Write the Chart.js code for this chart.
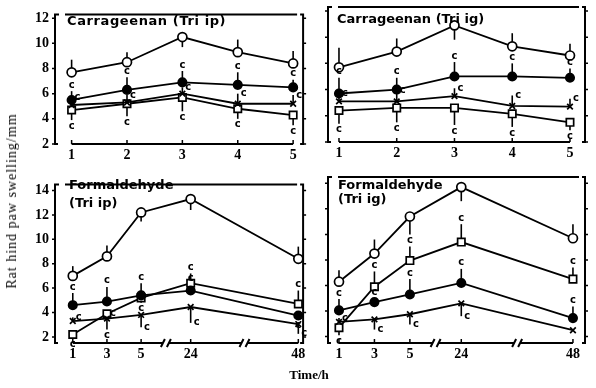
<!DOCTYPE html>
<html><head><meta charset="utf-8">
<script src="https://cdn.jsdelivr.net/npm/chart.js@4"></script>
<style>
html,body{margin:0;padding:0;background:#fff;width:596px;height:388px;overflow:hidden;position:relative;}
.panel{position:absolute;}
.ptitle{position:absolute;font:bold 13px "DejaVu Sans",sans-serif;color:#000;white-space:nowrap;line-height:1;}
#ytitle{position:absolute;left:12px;top:201px;transform:translate(-50%,-50%) rotate(-90deg);font:14px "Liberation Serif",serif;letter-spacing:1px;white-space:nowrap;color:#000;}
#xtitle{position:absolute;left:309px;top:375px;transform:translate(-50%,-50%);font:bold 13px "Liberation Serif",serif;white-space:nowrap;color:#000;}
</style></head><body>
<div class="panel" style="left:0;top:0;width:310px;height:170px"><canvas id="c1"></canvas></div>
<div class="panel" style="left:310px;top:0;width:286px;height:170px"><canvas id="c2"></canvas></div>
<div class="panel" style="left:0;top:170px;width:310px;height:200px"><canvas id="c3"></canvas></div>
<div class="panel" style="left:310px;top:170px;width:286px;height:200px"><canvas id="c4"></canvas></div>
<div class="ptitle" style="left:67px;top:14px;letter-spacing:0.6px">Carrageenan (Tri ip)</div>
<div class="ptitle" style="left:337px;top:12px;letter-spacing:0px">Carrageenan (Tri ig)</div>
<div class="ptitle" style="left:69px;top:178px">Formaldehyde</div>
<div class="ptitle" style="left:69px;top:196px">(Tri ip)</div>
<div class="ptitle" style="left:338px;top:178px">Formaldehyde</div>
<div class="ptitle" style="left:338px;top:192px">(Tri ig)</div>
<div id="ytitle">Rat hind paw swelling/mm</div>
<div id="xtitle">Time/h</div>
<script>
// ---------- data ----------
const timesTop = [1, 2, 3, 4, 5];
const timesBottom = [1, 3, 5, 24, 48];
const yTicksTop = [2, 4, 6, 8, 10, 12];
const yTicksBottom = [2, 4, 6, 8, 10, 12, 14];

// Carrageenan (Tri ip)
const carIpControl = [7.7, 8.5, 10.5, 9.3, 8.4];
const carIpControlErr = [1.0, 0.8, -0.8, 1.0, 1.0];
const carIpFilled = [5.5, 6.3, 6.9, 6.7, 6.5];
const carIpFilledErr = [0.7, 1.0, 0.9, 1.0, 0.6];
const carIpCross = [5.1, 5.3, 6.0, 5.2, 5.2];
const carIpCrossErr = [0.6, 0.6, 0.5, 0.8, 0.7];
const carIpSquare = [4.7, 5.2, 5.7, 4.8, 4.3];
const carIpSquareErr = [-0.8, -1.0, -1.1, -0.8, -0.8];

// Carrageenan (Tri ig)
const carIgControl = [7.7, 8.9, 10.9, 9.3, 8.6];
const carIgControlErr = [1.5, 1.0, -1.1, 1.0, 0.9];
const carIgFilled = [5.7, 6.0, 7.0, 7.0, 6.9];
const carIgFilledErr = [1.2, 0.9, 1.1, 1.0, 0.7];
const carIgCross = [5.1, 5.1, 5.5, 4.75, 4.7];
const carIgCrossErr = [0.6, 0.8, 0.6, 0.8, 0.6];
const carIgSquare = [4.4, 4.6, 4.6, 4.15, 3.5];
const carIgSquareErr = [-1.0, -1.1, -1.3, -1.0, -0.6];

// Formaldehyde (Tri ip)
const forIpControl = [7.0, 8.6, 12.2, 13.3, 8.4];
const forIpControlErr = [0.8, 0.9, -0.75, -0.9, 1.0];
const forIpFilled = [4.6, 4.9, 5.4, 5.8, 3.75];
const forIpFilledErr = [1.0, 1.2, 1.0, 0.5, -0.3];
const forIpCross = [3.3, 3.5, 3.8, 4.45, 3.05];
const forIpCrossErr = [0.3, 0.4, -1.0, -1.3, -0.8];
const forIpSquare = [2.2, 3.9, 5.2, 6.4, 4.7];
const forIpSquareErr = [-0.3, -1.3, -0.4, 0.8, 1.1];

// Formaldehyde (Tri ig)
const forIgControl = [6.3, 8.5, 11.4, 13.7, 9.7];
const forIgControlErr = [0.9, 1.1, -1.4, -1.1, 1.1];
const forIgFilled = [4.05, 4.7, 5.3, 6.2, 3.45];
const forIgFilledErr = [0.9, 0.3, 1.2, 1.1, 0.9];
const forIgCross = [3.15, 3.35, 3.75, 4.6, 2.5];
const forIgCrossErr = [0.3, -0.8, -0.8, -1.0, 0];
const forIgSquare = [2.7, 5.9, 7.95, 9.4, 6.5];
const forIgSquareErr = [-0.6, 1.2, 1.1, 1.4, 0.9];

// ---------- axis transforms ----------
const linearPos = t => t;
// broken time axis: 1-5 h evenly, then compressed segments to 24 h and 48 h
function brokenPos(t) {
  if (t <= 5) return (t - 1) / 2;
  if (t <= 24) return 2 + (t - 5) / 19 * 1.45;
  return 3.45 + (t - 24) / 24 * 3.15;
}

// ---------- styles ----------
const seriesStyle = {
  control: {pointStyle: 'circle', pointRadius: 4.5, pointBackgroundColor: '#fff', sig: false},
  filled: {pointStyle: 'circle', pointRadius: 4.2, pointBackgroundColor: '#000', sig: true, side: 'end'},
  cross: {pointStyle: 'crossRot', pointRadius: 4, pointBackgroundColor: '#000', sig: true, side: 'right'},
  square: {pointStyle: 'rect', pointRadius: 5.2, pointBackgroundColor: '#fff', sig: true, side: 'end'}
};

function ds(times, pos, vals, err, kind) {
  const s = seriesStyle[kind];
  return {
    data: times.map((t, i) => ({x: pos(t), y: vals[i]})),
    err: err, sig: s.sig, side: s.side,
    borderColor: '#000', borderWidth: 1.8,
    pointStyle: s.pointStyle, pointRadius: s.pointRadius,
    pointBackgroundColor: s.pointBackgroundColor, pointBorderColor: '#000',
    pointBorderWidth: 1.7, tension: 0, fill: false
  };
}

// ---------- plugins ----------
const framePlugin = {
  id: 'frame',
  afterDatasetsDraw(chart, args, opts) {
    const ctx = chart.ctx;
    const {left, right, top, bottom} = chart.chartArea;
    const ys = chart.scales.y, xs = chart.scales.x;
    ctx.save();
    ctx.strokeStyle = '#000';
    ctx.lineWidth = 2;
    ctx.beginPath();
    ctx.moveTo(left + 4, top); ctx.lineTo(left, top); ctx.lineTo(left, bottom); ctx.lineTo(left + 3, bottom);
    ctx.moveTo(left + 10, top); ctx.lineTo(right - 6, top);
    ctx.moveTo(right - 3, top); ctx.lineTo(right, top); ctx.lineTo(right, bottom); ctx.lineTo(right - 3, bottom);
    ctx.stroke();
    // bottom axis line (with breaks)
    const x0 = xs.getPixelForValue(xs.ticks[0].value);
    const x1 = xs.getPixelForValue(xs.ticks[xs.ticks.length - 1].value);
    const brks = (opts.breaks || []).map(b => xs.getPixelForValue(b));
    let segs = [], start = x0;
    brks.forEach(b => { segs.push([start, b - 3]); start = b + 3; });
    segs.push([start, x1]);
    ctx.beginPath();
    segs.forEach(s => { ctx.moveTo(s[0], bottom); ctx.lineTo(s[1], bottom); });
    brks.forEach(b => {
      [-3, 3].forEach(d => { ctx.moveTo(b + d - 2, bottom + 4); ctx.lineTo(b + d + 2, bottom - 4); });
    });
    ctx.stroke();
    // tick marks
    ctx.lineWidth = 1.5;
    ctx.beginPath();
    ys.ticks.forEach(t => {
      const y = ys.getPixelForValue(t.value);
      ctx.moveTo(left, y); ctx.lineTo(left - 3, y);
      ctx.moveTo(right, y); ctx.lineTo(right + 3, y);
    });
    xs.ticks.forEach(t => {
      const x = xs.getPixelForValue(t.value);
      ctx.moveTo(x, bottom); ctx.lineTo(x, bottom - 4);
    });
    ctx.stroke();
    ctx.restore();
  }
};

const errPlugin = {
  id: 'errbars',
  beforeDatasetsDraw(chart) {
    const ctx = chart.ctx, ys = chart.scales.y;
    ctx.save();
    ctx.strokeStyle = '#000';
    ctx.lineWidth = 1.6;
    chart.data.datasets.forEach((d, di) => {
      const meta = chart.getDatasetMeta(di);
      d.err.forEach((e, i) => {
        if (!e) return;
        const p = meta.data[i];
        const tip = ys.getPixelForValue(d.data[i].y + e);
        ctx.beginPath(); ctx.moveTo(p.x, p.y); ctx.lineTo(p.x, tip); ctx.stroke();
      });
    });
    ctx.restore();
  },
  afterDatasetsDraw(chart) {
    const ctx = chart.ctx, ys = chart.scales.y;
    ctx.save();
    ctx.fillStyle = '#000';
    ctx.font = 'bold 10px "DejaVu Sans", sans-serif';
    chart.data.datasets.forEach((d, di) => {
      if (!d.sig) return;
      const meta = chart.getDatasetMeta(di);
      d.err.forEach((e, i) => {
        if (!e) return;
        const p = meta.data[i];
        const tip = ys.getPixelForValue(d.data[i].y + e);
        if (d.side === 'right') {
          ctx.textAlign = 'left'; ctx.textBaseline = 'middle';
          ctx.fillText('c', p.x + 3, tip);
        } else {
          ctx.textAlign = 'center';
          ctx.textBaseline = e > 0 ? 'bottom' : 'top';
          ctx.fillText('c', p.x, e > 0 ? tip - 1 : tip + 1);
        }
      });
    });
    ctx.restore();
  }
};

const tickFont = {family: '"Liberation Serif", serif', size: 14, weight: 'bold'};

function makeChart(id, cfg) {
  const pos = cfg.pos;
  return new Chart(document.getElementById(id), {
    type: 'line',
    data: {datasets: cfg.datasets},
    plugins: [errPlugin, framePlugin],
    options: {
      responsive: true, maintainAspectRatio: false, animation: false,
      devicePixelRatio: 1,
      layout: {padding: {left: 0, right: cfg.padRight, top: cfg.padTop, bottom: 0}},
      plugins: {legend: {display: false}, tooltip: {enabled: false}, frame: {breaks: cfg.breaks}},
      scales: {
        x: {
          type: 'linear', min: cfg.xMin, max: cfg.xMax,
          grid: {display: false, drawTicks: false}, border: {display: false},
          afterBuildTicks: s => { s.ticks = cfg.times.map(t => ({value: pos(t)})); },
          afterFit: s => { s.height = cfg.xHeight; },
          ticks: {color: '#000', font: tickFont, padding: 3, autoSkip: false, maxRotation: 0,
                  callback: (v, i) => String(cfg.times[i])}
        },
        y: {
          type: 'linear', min: cfg.yMin, max: cfg.yMax,
          grid: {display: false, drawTicks: false}, border: {display: false},
          afterBuildTicks: s => { s.ticks = cfg.yTicks.map(v => ({value: v})); },
          afterFit: s => { s.width = cfg.yWidth; },
          ticks: {display: cfg.yLabels, color: '#000', font: tickFont, padding: 6}
        }
      }
    }
  });
}

makeChart('c1', {
  times: timesTop, pos: linearPos, yTicks: yTicksTop, yLabels: true,
  xMin: 0.70, xMax: 5.18, yMin: 2, yMax: 12.3,
  yWidth: 55, xHeight: 26, padRight: 3, padTop: 9, breaks: [],
  datasets: [
    ds(timesTop, linearPos, carIpControl, carIpControlErr, 'control'),
    ds(timesTop, linearPos, carIpFilled, carIpFilledErr, 'filled'),
    ds(timesTop, linearPos, carIpCross, carIpCrossErr, 'cross'),
    ds(timesTop, linearPos, carIpSquare, carIpSquareErr, 'square')
  ]
});
makeChart('c2', {
  times: timesTop, pos: linearPos, yTicks: yTicksTop, yLabels: false,
  xMin: 0.81, xMax: 5.26, yMin: 2, yMax: 12.3,
  yWidth: 18, xHeight: 28, padRight: 11, padTop: 7, breaks: [],
  datasets: [
    ds(timesTop, linearPos, carIgControl, carIgControlErr, 'control'),
    ds(timesTop, linearPos, carIgFilled, carIgFilledErr, 'filled'),
    ds(timesTop, linearPos, carIgCross, carIgCrossErr, 'cross'),
    ds(timesTop, linearPos, carIgSquare, carIgSquareErr, 'square')
  ]
});
const bottomBreaks = [(brokenPos(5) + brokenPos(24)) / 2, (brokenPos(24) + brokenPos(48)) / 2];
makeChart('c3', {
  times: timesBottom, pos: brokenPos, yTicks: yTicksBottom, yLabels: true,
  xMin: -0.52, xMax: 6.74, yMin: 1.5, yMax: 14.5,
  yWidth: 55, xHeight: 27, padRight: 3, padTop: 3, breaks: bottomBreaks,
  datasets: [
    ds(timesBottom, brokenPos, forIpControl, forIpControlErr, 'control'),
    ds(timesBottom, brokenPos, forIpFilled, forIpFilledErr, 'filled'),
    ds(timesBottom, brokenPos, forIpCross, forIpCrossErr, 'cross'),
    ds(timesBottom, brokenPos, forIpSquare, forIpSquareErr, 'square')
  ]
});
makeChart('c4', {
  times: timesBottom, pos: brokenPos, yTicks: yTicksBottom, yLabels: false,
  xMin: -0.31, xMax: 6.94, yMin: 1.5, yMax: 14.5,
  yWidth: 18, xHeight: 27, padRight: 11, padTop: 3, breaks: bottomBreaks,
  datasets: [
    ds(timesBottom, brokenPos, forIgControl, forIgControlErr, 'control'),
    ds(timesBottom, brokenPos, forIgFilled, forIgFilledErr, 'filled'),
    ds(timesBottom, brokenPos, forIgCross, forIgCrossErr, 'cross'),
    ds(timesBottom, brokenPos, forIgSquare, forIgSquareErr, 'square')
  ]
});
</script>
</body></html>
